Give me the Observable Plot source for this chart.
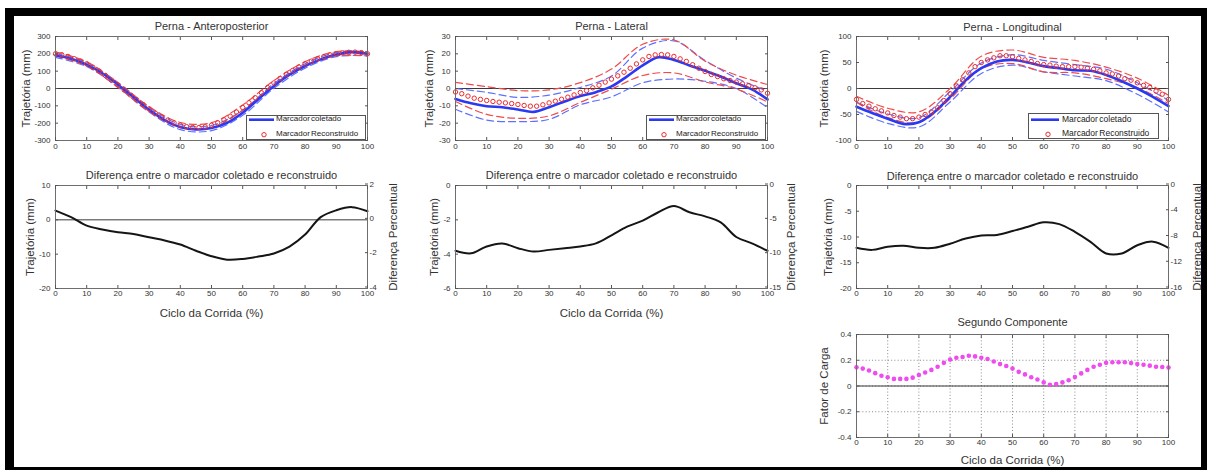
<!DOCTYPE html>
<html><head><meta charset="utf-8">
<script src="https://cdn.jsdelivr.net/npm/d3@7"></script>
<script src="https://cdn.jsdelivr.net/npm/@observablehq/plot@0.6"></script>
<style>
html,body{margin:0;padding:0;background:#fff;overflow:hidden;}
#root{position:relative;width:1207px;height:470px;font-family:"Liberation Sans",Arial,sans-serif;overflow:hidden;}
#frame{position:absolute;left:5px;top:8px;width:1187px;height:451px;border-style:solid;border-color:#000;border-width:8px 9px 9px 9px;}
.panel{position:absolute;}
.legend{position:absolute;border:1px solid #555;background:#fff;box-sizing:border-box;color:#222;}
.legend span{position:absolute;white-space:nowrap;word-spacing:-1px;}
.legend svg{position:absolute;left:0;top:0;overflow:visible;}
</style></head><body><div id="root"><div id="frame"></div></div>
<script>
// ---------- data ----------
const xTicks = [0,10,20,30,40,50,60,70,80,90,100];
const x10 = [0,10,20,30,40,50,60,70,80,90,100];
const x5 = [0,5,10,15,20,25,30,35,40,45,50,55,60,65,70,75,80,85,90,95,100];
const x2 = [0,2,4,6,8,10,12,14,16,18,20,22,24,26,28,30,32,34,36,38,40,42,44,46,48,50,52,54,56,58,60,62,64,66,68,70,72,74,76,78,80,82,84,86,88,90,92,94,96,98,100];

// Perna - Anteroposterior
const apColetado = [192,172,138,88,22,-50,-122,-182,-222,-236,-228,-198,-140,-62,15,80,130,168,196,210,200];
const apReconstruido = [200,195,185,172,158,142,122,100,75,48,20,-8,-37,-65,-92,-118,-142,-163,-182,-198,-211,-220,-225,-225,-221,-212,-198,-181,-160,-136,-110,-82,-53,-24,5,32,58,82,104,124,142,158,172,184,194,201,206,209,210,207,200];
const apSdColetado = [12,12,13,14,15,15,15,14,13,12,12];
const apSdReconstruido = [12,12,13,14,15,15,15,14,13,12,12];

// Perna - Lateral
const latColetado = [-6,-8.5,-10.2,-10.8,-12.1,-13.5,-10.8,-7.5,-4.4,-2.1,1.2,7,13.3,18,16.5,13.3,10.2,6.9,3,-0.5,-6.3];
const latReconstruido = [-2,-3,-4.4,-5.6,-6.3,-6.9,-7.5,-7.9,-8.3,-8.7,-9.2,-9.8,-10.2,-10.2,-9.4,-8.3,-7.3,-6.2,-5,-3.7,-2.3,-1.2,0.4,1.9,3.7,5.4,7.3,9.4,11.7,14.2,16.5,18.5,19.4,19.6,19.4,18.5,17.1,15.6,13.7,11.7,9.8,8.1,6.9,5.6,4.6,3.7,2.7,1.7,0.4,-0.8,-2.7];
const latSdColetado = [6,8,7,7,5,6,10,11,6,3,4.7];
const latSdReconstruido = [5.5,8,8,7.5,5.7,5.8,9,9.5,6,4,5];

// Perna - Longitudinal
const longColetado = [-35,-47,-58,-68,-65,-45,-16,16,39,52,55,50,43,39,35,34,26,14,0,-16,-34];
const longReconstruido = [-21,-29,-34,-39,-43,-47,-52,-55,-58,-58,-55,-50,-45,-37,-23,-10,5,17,30,42,50,55,59,63,63,61,58,55,52,48,46,45,43,42,42,42,41,39,37,34,30,28,24,19,16,11,6,2,-5,-11,-21];
const longSdColetado = [9,9,9,10,10,10,11,11,11,11,11];
const longSdReconstruido = [6,9,10,10,12,13,14,12,11,9,8];

// Diferença entre o marcador coletado e reconstruido
const apDiff = [2.7,0.8,-1.7,-2.8,-3.6,-4.1,-5.1,-6,-7.2,-9,-10.6,-11.6,-11.4,-10.7,-9.8,-7.8,-4.3,0.8,2.8,3.7,2.5];
const latDiff = [-3.8,-3.95,-3.55,-3.38,-3.65,-3.85,-3.75,-3.65,-3.55,-3.37,-2.9,-2.4,-2.05,-1.56,-1.2,-1.56,-1.8,-2.15,-3.0,-3.37,-3.8];
const longDiff = [-12.1,-12.5,-11.9,-11.7,-12.1,-12.1,-11.3,-10.3,-9.7,-9.6,-8.85,-8.0,-7.15,-7.5,-9.0,-10.95,-13.2,-13.2,-11.6,-10.9,-12.1];

// Segundo Componente
const fatorCarga = [0.145,0.135,0.12,0.1,0.08,0.068,0.055,0.055,0.055,0.065,0.085,0.105,0.125,0.15,0.18,0.205,0.22,0.225,0.235,0.23,0.22,0.21,0.19,0.17,0.155,0.135,0.11,0.09,0.068,0.05,0.028,0.01,0.015,0.028,0.045,0.07,0.098,0.125,0.15,0.165,0.18,0.185,0.185,0.185,0.178,0.17,0.165,0.158,0.15,0.148,0.143];

// tick labels
const apYTicks = [-300,-200,-100,0,100,200,300];
const latYTicks = [-30,-20,-10,0,10,20,30];
const longYTicks = [-100,-50,0,50,100];
const apDiffYTicks = [-20,-10,0,10];
const apDiffRightTicks = [-4,-2,0,2];
const latDiffYTicks = [-6,-4,-2,0];
const latDiffRightTicks = [-15,-10,-5,0];
const longDiffYTicks = [-20,-15,-10,-5,0];
const longDiffRightTicks = [-16,-12,-8,-4,0];
const fatorYTicks = [-0.4,-0.2,0,0.2,0.4];

const legendLabels = ["Marcador coletado", "Marcador Reconstruido"];
const xLabelText = "Ciclo da Corrida (%)";
const trajLabel = "Trajetória (mm)";
const diffTitle = "Diferença entre o marcador coletado e reconstruido";
const rightLabelText = "Diferença Percentual";

// ---------- styles ----------
const BLUE = "#2a3af2", BLUE_D = "#5f70ff", RED = "#ee2b2b", RED_D = "#f04a4a", MAG = "#ee4cee";
const ML = 52, MR = 40, MT = 28, MB = 36;
const root = document.getElementById("root");
const fmt = d => String(+(+d).toFixed(2));

function rows(xs, ys) { return xs.map((x, i) => ({x, y: ys[i]})); }
function band(meanX, mean, sd) {
  return x10.map((x, i) => { const m = mean[meanX.indexOf(x)]; return {x, lo: m - sd[i], hi: m + sd[i]}; });
}

function panel(o) {
  const w = 312, h = o.h;
  const marks = [];
  if (o.grid) {
    marks.push(Plot.gridX(xTicks, {stroke: "#8a8a8a", strokeOpacity: 1, strokeDasharray: "1,2.2"}));
    marks.push(Plot.gridY(o.yTicks, {stroke: "#8a8a8a", strokeOpacity: 1, strokeDasharray: "1,2.2"}));
  }
  if (o.zero) marks.push(Plot.ruleY([0], {stroke: "#3a3a3a", strokeWidth: 1}));
  marks.push(...o.marks);
  marks.push(Plot.frame({stroke: "#6e6e6e"}));
  const ax = {fontSize: 8, fill: "#333", stroke: "#555", label: null};
  marks.push(Plot.axisX(xTicks, {...ax, anchor: "bottom", tickSize: -3, tickPadding: o.xPad, tickFormat: fmt}));
  marks.push(Plot.axisX(xTicks, {...ax, anchor: "top", tickSize: -3, tickFormat: () => ""}));
  marks.push(Plot.axisY(o.yTicks, {...ax, anchor: "left", tickSize: -3, tickPadding: 8, tickFormat: fmt}));
  const txt = {text: d => d, textAnchor: "middle", lineAnchor: "middle", fill: "#333"};
  if (o.right) {
    const [r0, r1] = o.rightDomain, [l0, l1] = o.yDomain;
    const toLeft = r => l0 + (r - r0) / (r1 - r0) * (l1 - l0);
    const toRight = l => r0 + (l - l0) / (l1 - l0) * (r1 - r0);
    marks.push(Plot.axisY(o.right.map(toLeft), {...ax, anchor: "right", tickSize: -3, tickPadding: 5, dy: -1.5, tickFormat: d => fmt(Math.round(toRight(d) * 100) / 100)}));
    marks.push(Plot.text([rightLabelText], {...txt, frameAnchor: "right", rotate: -90, dx: o.rightDx, fontSize: 11.5}));
  } else {
    marks.push(Plot.axisY(o.yTicks, {...ax, anchor: "right", tickSize: -3, tickFormat: () => ""}));
  }
  if (o.title) marks.push(Plot.text([o.title], {...txt, frameAnchor: "top", dy: o.titleDy, fontSize: 11}));
  if (o.yLabel) marks.push(Plot.text([o.yLabel], {...txt, frameAnchor: "left", rotate: -90, dx: -o.yLabelDx, fontSize: 11.5}));
  if (o.xLabel) marks.push(Plot.text([o.xLabel], {...txt, frameAnchor: "bottom", dy: o.xLabelDy, fontSize: 11.5}));

  const svg = Plot.plot({
    width: w + ML + MR, height: h + MT + MB,
    marginLeft: ML, marginRight: MR, marginTop: MT, marginBottom: MB,
    x: {domain: [0, 100]},
    y: {domain: o.yDomain},
    style: {background: "transparent", maxWidth: "none", overflow: "visible", fontFamily: "'Liberation Sans', Arial, sans-serif"},
    marks
  });
  const div = document.createElement("div");
  div.className = "panel";
  div.style.left = (o.left - ML) + "px";
  div.style.top = (o.top - MT) + "px";
  div.style.width = (w + ML + MR) + "px";
  div.appendChild(svg);
  root.appendChild(div);
}

function trajMarks(meanX, mean, sdB, recon, sdR) {
  const bB = band(x5, mean, sdB), bR = band(x2, recon, sdR);
  const dash = {strokeWidth: 1.2, strokeDasharray: "7,4", curve: "catmull-rom"};
  return [
    Plot.line(bB, {x: "x", y: "hi", stroke: BLUE_D, ...dash}),
    Plot.line(bB, {x: "x", y: "lo", stroke: BLUE_D, ...dash}),
    Plot.line(bR, {x: "x", y: "hi", stroke: RED_D, ...dash}),
    Plot.line(bR, {x: "x", y: "lo", stroke: RED_D, ...dash}),
    Plot.line(rows(x5, mean), {x: "x", y: "y", stroke: BLUE, strokeWidth: 2.6, curve: "catmull-rom"}),
    Plot.dot(rows(x2, recon), {x: "x", y: "y", r: 2.2, stroke: RED, fill: "none", strokeWidth: 1})
  ];
}

function legend(left, top, width, height, fs, row1, row2, lineX0, lineX1, circX, textX) {
  const d = document.createElement("div");
  d.className = "legend";
  Object.assign(d.style, {left: left + "px", top: top + "px", width: width + "px", height: height + "px", fontSize: fs + "px"});
  const ns = "http://www.w3.org/2000/svg";
  const s = document.createElementNS(ns, "svg");
  s.setAttribute("width", width); s.setAttribute("height", height);
  const l = document.createElementNS(ns, "line");
  l.setAttribute("x1", lineX0); l.setAttribute("x2", lineX1); l.setAttribute("y1", row1); l.setAttribute("y2", row1);
  l.setAttribute("stroke", BLUE); l.setAttribute("stroke-width", 2.6);
  const c = document.createElementNS(ns, "circle");
  c.setAttribute("cx", circX); c.setAttribute("cy", row2); c.setAttribute("r", 2.2);
  c.setAttribute("fill", "none"); c.setAttribute("stroke", RED);
  s.appendChild(l); s.appendChild(c); d.appendChild(s);
  [row1, row2].forEach((ry, i) => {
    const t = document.createElement("span");
    t.textContent = legendLabels[i];
    Object.assign(t.style, {left: textX + "px", top: (ry - fs * 0.6 - 1) + "px", lineHeight: (fs * 1.2) + "px"});
    d.appendChild(t);
  });
  root.appendChild(d);
}

// ---------- panels ----------
panel({left: 55, top: 36, h: 104, yDomain: [-300, 300], yTicks: apYTicks, zero: true, xPad: 6,
  title: "Perna - Anteroposterior", titleDy: -10, yLabel: trajLabel, yLabelDx: 29,
  marks: trajMarks(x5, apColetado, apSdColetado, apReconstruido, apSdReconstruido)});
panel({left: 455, top: 36, h: 104, yDomain: [-30, 30], yTicks: latYTicks, zero: true, xPad: 6,
  title: "Perna - Lateral", titleDy: -10, yLabel: trajLabel, yLabelDx: 26,
  marks: trajMarks(x5, latColetado, latSdColetado, latReconstruido, latSdReconstruido)});
panel({left: 856, top: 36, h: 104, yDomain: [-100, 100], yTicks: longYTicks, zero: true, xPad: 6,
  title: "Perna - Longitudinal", titleDy: -9, yLabel: trajLabel, yLabelDx: 32,
  marks: trajMarks(x5, longColetado, longSdColetado, longReconstruido, longSdReconstruido)});

const diffLine = ys => [Plot.line(rows(x5, ys), {x: "x", y: "y", stroke: "#151515", strokeWidth: 2, curve: "catmull-rom"})];
panel({left: 55, top: 185, h: 103, yDomain: [-20, 10], yTicks: apDiffYTicks, right: apDiffRightTicks, rightDomain: [-4, 2], rightDx: 26,
  zero: true, xPad: 5, title: diffTitle, titleDy: -10, yLabel: trajLabel, yLabelDx: 25, xLabel: xLabelText, xLabelDy: 25,
  marks: diffLine(apDiff)});
panel({left: 455, top: 185, h: 103, yDomain: [-6, 0], yTicks: latDiffYTicks, right: latDiffRightTicks, rightDomain: [-15, 0], rightDx: 24,
  xPad: 5, title: diffTitle, titleDy: -10, yLabel: trajLabel, yLabelDx: 21, xLabel: xLabelText, xLabelDy: 25,
  marks: diffLine(latDiff)});
panel({left: 856, top: 185, h: 103, yDomain: [-20, 0], yTicks: longDiffYTicks, right: longDiffRightTicks, rightDomain: [-16, 0], rightDx: 29,
  xPad: 5, title: diffTitle, titleDy: -9, yLabel: trajLabel, yLabelDx: 28,
  marks: diffLine(longDiff)});
panel({left: 856, top: 334, h: 103, yDomain: [-0.4, 0.4], yTicks: fatorYTicks, grid: true, zero: true, xPad: 5,
  title: "Segundo Componente", titleDy: -12, yLabel: "Fator de Carga", yLabelDx: 32, xLabel: xLabelText, xLabelDy: 23,
  marks: [Plot.dot(rows(x2, fatorCarga), {x: "x", y: "y", r: 2.3, fill: MAG, stroke: "none"})]});

// legends
legend(246, 115, 120, 25, 8, 3.7, 18.7, 2, 27, 17, 29);
legend(646, 115, 120, 25, 8, 3.7, 18.7, 2, 27, 17, 29);
legend(1028, 113, 131, 26, 8.5, 5.7, 20.3, 2, 30, 19, 33);
</script></body></html>
